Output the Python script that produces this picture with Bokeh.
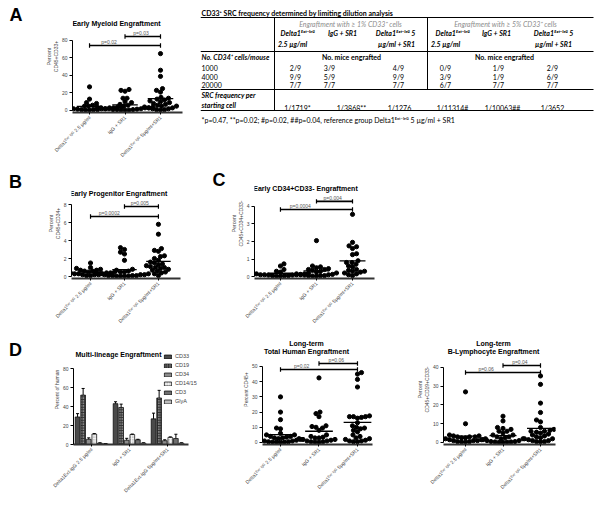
import math
import numpy as np
from bokeh.plotting import figure
from bokeh.models import Range1d, FixedTicker, Label, Legend, LegendItem, Spacer, Title
from bokeh.layouts import column, row
from bokeh.core.properties import value
from bokeh.embed import file_html
from bokeh.resources import INLINE

# ------------------------------------------------------------------ data
group_labels = ["Delta1ᴱˣᵗ⁻ᴵᵍᴳ 2.5 µg/ml", "IgG + SR1", "Delta1ᴱˣᵗ⁻ᴵᵍᴳ 5µg/ml+SR1"]
group_labels_plain = ["Delta1Ext-IgG 2.5 µg/ml", "IgG + SR1", "Delta1Ext-IgG 5µg/ml+SR1"]

myeloid_delta25 = [27, 13, 9, 8, 6, 5, 5, 4, 4, 4, 3, 3, 3, 3, 2, 2, 2, 2, 1.5, 1, 1, 1, 0.5, 0.5]
myeloid_igg_sr1 = [24, 23, 22, 14, 14, 10, 9, 7, 6, 5, 4, 4, 3, 3, 3, 2, 2, 2, 1.5, 1, 1, 1, 0.5, 0.5, 0.5]
myeloid_delta5_sr1 = [65, 46, 39, 25, 23, 21, 15, 14, 13, 12, 11, 10, 9, 8, 7, 6, 5, 5, 4, 3, 3, 2, 2, 1, 1, 0.5]
myeloid_p = ["p=0.02", "p=0.03"]

progenitor_delta25 = [1.5, 1.0, 0.9, 0.8, 0.7, 0.7, 0.6, 0.6, 0.5, 0.5, 0.5, 0.4, 0.4, 0.4, 0.3, 0.3, 0.3, 0.2, 0.2, 0.2, 0.1, 0.1]
progenitor_igg_sr1 = [3.2, 3.0, 2.7, 2.5, 1.8, 0.8, 0.7, 0.6, 0.5, 0.5, 0.4, 0.3, 0.3, 0.2, 0.2, 0.2, 0.1, 0.1, 0.1, 0.1, 0.05, 0.05, 0.05, 0.05]
progenitor_delta5_sr1 = [5.8, 4.7, 3.1, 2.9, 2.8, 2.3, 2.2, 2.0, 1.8, 1.6, 1.5, 1.4, 1.3, 1.2, 1.1, 1.0, 1.0, 0.9, 0.8, 0.7, 0.6, 0.5, 0.4, 0.3, 0.1]
progenitor_p = ["p=0.0002", "p=0.005"]

cd34cd33neg_delta25 = [0.72, 0.6, 0.4, 0.3, 0.25, 0.2, 0.2, 0.18, 0.15, 0.15, 0.12, 0.1, 0.1, 0.1, 0.08, 0.08, 0.05, 0.05, 0.05, 0.03, 0.02]
cd34cd33neg_igg_sr1 = [2.05, 0.6, 0.55, 0.5, 0.45, 0.4, 0.4, 0.35, 0.3, 0.25, 0.2, 0.15, 0.12, 0.1, 0.1, 0.08, 0.05, 0.05, 0.05, 0.03, 0.02]
cd34cd33neg_delta5_sr1 = [3.55, 1.95, 1.75, 1.7, 1.6, 1.3, 1.25, 0.9, 0.8, 0.8, 0.7, 0.6, 0.55, 0.4, 0.35, 0.3, 0.3, 0.25, 0.2, 0.15, 0.1, 0.05]
cd34cd33neg_p = ["p=0.0004", "p=0.004"]

total_delta25 = [30, 20, 15, 9.5, 9, 6, 5, 5, 4, 4, 3.5, 3, 3, 2.5, 2, 2, 1.5, 1, 1, 0.5, 0.5, 0.3, 0.2, 0.2, 0.1]
total_igg_sr1 = [42.5, 20, 19, 17, 11, 10.5, 10, 9.5, 8, 5, 4, 3.5, 3, 3, 2.5, 2, 2, 1.5, 1, 1, 0.5, 0.5, 0.3, 0.2]
total_delta5_sr1 = [46, 45, 41.5, 36.5, 17.5, 17, 17, 17, 16.5, 16, 13, 11, 10, 9.5, 9, 8, 7, 5, 4, 3, 2.5, 2, 1.5, 1, 1, 0.5, 0.5]
total_p = ["p=0.02", "p=0.06"]

blymph_delta25 = [27, 10, 4, 3.5, 3.5, 3, 3, 3, 2.5, 2.5, 2, 2, 2, 1.5, 1.5, 1, 1, 1, 0.5, 0.5, 0.3, 0.2]
blymph_igg_sr1 = [14, 11.5, 8, 7.5, 7, 6, 6, 5, 4, 4, 3, 3, 2.5, 2, 2, 1.5, 1, 1, 0.5, 0.5, 0.3, 0.3, 0.2, 0.1, 0.1]
blymph_delta5_sr1 = [35.5, 31, 21, 16, 12, 11, 8, 7, 6.5, 6, 6, 5.5, 5, 4.5, 4, 3.5, 3, 2.5, 2, 2, 1.5, 1, 1, 0.5, 0.5, 0.3]
blymph_p = ["p=0.06", "p=0.04"]

lineages = ["CD33", "CD19", "CD34", "CD14/15", "CD3", "GlyA"]
lineage_mean_delta25 = [29, 52, 5.5, 11, 1.5, 0.8]
lineage_sem_delta25 = [3.5, 7, 1.5, 0.5, 0.3, 0.2]
lineage_mean_igg_sr1 = [43, 39, 4.5, 10.5, 5, 1.5]
lineage_sem_igg_sr1 = [2, 3.5, 2, 0.5, 0.5, 0.3]
lineage_mean_delta5_sr1 = [27, 49, 4, 7.5, 6.3, 1.5]
lineage_sem_delta5_sr1 = [6, 8, 1, 0.5, 4.5, 0.3]

cells_per_mouse = ["1000", "4000", "20000"]
engrafted_1pct = [["2/9", "3/9", "4/9"], ["9/9", "5/9", "9/9"], ["7/7", "7/7", "7/7"]]
engrafted_5pct = [["0/9", "1/9", "2/9"], ["3/9", "1/9", "6/9"], ["6/7", "7/7", "7/7"]]
src_frequency = ["1/1719*", "1/3868**", "1/1276", "1/11314#", "1/10063##", "1/3652"]

FONT = "Liberation Sans"
TFONT = "Lato"


# ------------------------------------------------------------------ helpers
def swarm_offsets(vals, k, s, d=4.0):
    vals = np.asarray(vals, float)
    placed = []
    offs = np.zeros(len(vals))
    for n, i in enumerate(np.argsort(vals, kind="stable")):
        y = vals[i] * k
        step = 0
        found = None
        while found is None:
            if step == 0:
                cands = [0.0]
            else:
                cands = [step * 0.5, -step * 0.5] if n % 2 == 0 else [-step * 0.5, step * 0.5]
            for x in cands:
                if all((x - px) ** 2 + (y - py) ** 2 >= d * d for px, py in placed):
                    found = x
                    break
            step += 1
        placed.append((found, y))
        offs[i] = found / s
    return offs


def put(p, geo, cx, cy, text, size="5px", style="normal", angle=0.0, align="center",
        baseline="middle", color="black"):
    """Text label at a frame pixel position (converted into the plot's data space, inside the frame)."""
    l, t, s, k, x0, y1 = geo
    p.add_layout(Label(x=x0 + (cx - l) / s, y=y1 - (cy - t) / k, text=text, angle=angle,
                       text_font=FONT, text_font_size=size, text_font_style=style,
                       text_align=align, text_baseline=baseline, text_color=color))


def plain_fig(fw, fh, bottom, xr, yr):
    f = figure(frame_width=fw, frame_height=fh, x_range=Range1d(*xr), y_range=Range1d(*yr),
               output_backend="svg", toolbar_location=None, title=None,
               x_axis_type=None, y_axis_type=None,
               min_border_left=0, min_border_right=0, min_border_top=0, min_border_bottom=bottom)
    f.outline_line_color = None
    f.background_fill_color = "white"
    f.border_fill_color = "white"
    return f


def letter_fig(fw, fh, bottom, letter, lx, ly):
    f = plain_fig(fw, fh, bottom, (0, fw), (fh, 0))
    f.text(x=[lx], y=[ly], text=[letter], text_font=value(FONT), text_font_size="18px",
           text_font_style="bold", text_align="center", text_baseline="middle", text_color="black")
    return f


def base_fig(fw, fh, borders, xr, yr, yticks, xlabels, ylabel, xbounds=None):
    l, r, t, b = borders
    p = figure(frame_width=fw, frame_height=fh, x_range=Range1d(*xr), y_range=Range1d(*yr),
               output_backend="svg", toolbar_location=None, title=None,
               min_border_left=l, min_border_right=r, min_border_top=t, min_border_bottom=b)
    p.xgrid.visible = False
    p.ygrid.visible = False
    p.outline_line_color = None
    p.background_fill_color = "white"
    p.border_fill_color = "white"
    ya = p.yaxis[0]
    ya.ticker = FixedTicker(ticks=yticks)
    ya.bounds = (0, yticks[-1])
    ya.major_label_text_font = FONT
    ya.major_label_text_font_size = "5px"
    ya.major_label_standoff = 2
    ya.major_tick_out = 3
    ya.major_tick_in = 0
    ya.minor_tick_out = 0
    ya.minor_tick_in = 0
    ya.axis_line_width = 1
    ya.major_tick_line_width = 1
    ya.axis_label = ylabel
    ya.axis_label_text_font = FONT
    ya.axis_label_text_font_size = "5px"
    ya.axis_label_text_font_style = "normal"
    ya.axis_label_standoff = 0
    xa = p.xaxis[0]
    xa.ticker = FixedTicker(ticks=[0, 1, 2])
    xa.major_label_overrides = {i: lab for i, lab in enumerate(xlabels)}
    xa.major_label_orientation = math.pi / 4
    xa.major_label_text_font = FONT
    xa.major_label_text_font_size = "5px"
    xa.major_label_standoff = 2
    xa.major_tick_out = 2
    xa.major_tick_in = 0
    xa.minor_tick_out = 0
    xa.minor_tick_in = 0
    xa.axis_line_width = 2
    xa.axis_line_color = "#333333"
    if xbounds is not None:
        xa.bounds = xbounds
    s = fw / (xr[1] - xr[0])
    k = fh / (yr[1] - yr[0])
    geo = (l, t, s, k, xr[0], yr[1])
    return p, geo


def dot_panel(fw, fh, borders, xr, yr, yticks, groups, bracket_levels, pvals,
              ylabel, titles, title_xy):
    p, geo = base_fig(fw, fh, borders, xr, yr, yticks, group_labels, ylabel)
    s, k = geo[2], geo[3]
    for gi, vals in enumerate(groups):
        offs = swarm_offsets(vals, k, s)
        p.scatter(x=gi + offs, y=vals, size=4.2, color="black")
        m = float(np.mean(vals))
        p.segment(x0=[gi - 0.36], x1=[gi + 0.36], y0=[m], y1=[m], line_width=1.3, line_color="black")
    cap = 2.2 / k
    pairs = [(0, 2), (1, 2)]
    for (ga, gb), lvl, txt in zip(pairs, bracket_levels, pvals):
        p.segment(x0=[ga], x1=[gb], y0=[lvl], y1=[lvl], line_width=1.6, line_color="black")
        p.segment(x0=[ga, gb], x1=[ga, gb], y0=[lvl - cap] * 2, y1=[lvl + cap] * 2,
                  line_width=1.2, line_color="black")
        tx = (ga + ga + 1) / 2 + (0.05 if ga == 0 else -0.05)
        p.add_layout(Label(x=tx, y=lvl, text=txt, text_font=FONT, text_font_size="5px",
                           text_align="center", text_baseline="bottom", y_offset=0.5,
                           text_color="#555555"))
    for i, line in enumerate(titles):
        put(p, geo, title_xy[0], title_xy[1] + i * 8, line, size="7px", style="bold")
    return p


# ------------------------------------------------------------------ row 1: panel A + table
F1, B1 = 112, 56
letA = letter_fig(40, F1, B1, "A", 15.5, 14.5)
figA = dot_panel(110, F1, (32, 18, 0, B1), (-0.48, 2.62), (-2.29, 125.71), [0, 20, 40, 60, 80],
                 [myeloid_delta25, myeloid_igg_sr1, myeloid_delta5_sr1], [74.3, 84.6], myeloid_p,
                 "Percent\nCD45+CD33+", ["Early Myeloid  Engraftment"], (77, 23))

tbl = plain_fig(398, F1, B1, (200, 598), (112, 0))
tbl.segment(x0=[200, 200, 200, 200, 274, 427], x1=[593, 593, 593, 593, 274, 427],
            y0=[17, 51, 89, 110, 17, 17], y1=[17, 51, 89, 110, 110, 89],
            line_color="black", line_width=1)


def ttext(xs, ys, texts, size="7px", style="normal", align="center", color="black"):
    tbl.text(x=xs, y=ys, text=texts, text_font=value(TFONT), text_font_size=size,
             text_font_style=style, text_align=align, text_baseline="middle", text_color=color)


ttext([201], [12], ["CD33⁺ SRC frequency determined by limiting dilution analysis"], style="bold", align="left")
ttext([350, 505], [23, 23], ["Engraftment with ≥ 1% CD33⁺ cells", "Engraftment with ≥ 5% CD33⁺ cells"],
      style="italic", color="#8c8c8c")
ttext([297, 342, 395, 452, 496, 553], [32] * 6,
      ["Delta1ᴱˣᵗ⁻ᴵᵍᴳ", "IgG + SR1", "Delta1ᴱˣᵗ⁻ᴵᵍᴳ 5", "Delta1ᴱˣᵗ⁻ᴵᵍᴳ", "IgG + SR1", "Delta1ᴱˣᵗ⁻ᴵᵍᴳ 5"],
      style="bold italic")
ttext([292, 396, 445, 553], [43] * 4, ["2.5 µg/ml", "µg/ml + SR1", "2.5 µg/ml", "µg/ml + SR1"],
      style="bold italic")
ttext([201], [56], ["No. CD34⁺ cells/mouse"], style="bold italic", align="left")
ttext([351, 504], [56, 56], ["No. mice engrafted", "No. mice engrafted"], style="bold")
row_y = [67, 76, 84.5]
ttext([201] * 3, row_y, cells_per_mouse, align="left")
col_x = [295, 329, 398, 445, 498, 552]
vx, vy, vt = [], [], []
for ri, yv in enumerate(row_y):
    for ci, t in enumerate(engrafted_1pct[ri] + engrafted_5pct[ri]):
        vx.append(col_x[ci]); vy.append(yv); vt.append(t)
ttext(vx, vy, vt)
ttext([201, 201], [94, 104], ["SRC frequency per", "starting cell"], style="bold italic", align="left")
ttext([297, 351, 399, 452, 502, 552], [107] * 6, src_frequency)
tbl.add_layout(Title(text="*p=0.47, **p=0.02; #p=0.02, ##p=0.04, reference group Delta1ᴱˣᵗ⁻ᴵᵍᴳ 5 µg/ml + SR1",
                     align="left", offset=1, standoff=2, text_font=TFONT, text_font_size="7px",
                     text_font_style="normal", text_color="black"), "below")

# ------------------------------------------------------------------ row 2: panels B, C
F2, B2 = 110, 56
letB = letter_fig(40, F2, B2, "B", 15, 13)
figB = dot_panel(109, F2, (31, 20, 0, B2), (-0.56, 2.65), (-0.222, 12.0), [0, 2, 4, 6, 8],
                 [progenitor_delta25, progenitor_igg_sr1, progenitor_delta5_sr1], [6.67, 7.78], progenitor_p,
                 "Percent\nCD45+CD34+", ["Early Progenitor  Engraftment"], (79, 25))
letC = letter_fig(27, F2, B2, "C", 18.5, 11)
figC = dot_panel(120, F2, (26, 27, 0, B2), (-0.72, 2.61), (-0.114, 6.171), [0, 1, 2, 3, 4],
                 [cd34cd33neg_delta25, cd34cd33neg_igg_sr1, cd34cd33neg_delta5_sr1], [3.83, 4.29], cd34cd33neg_p,
                 "Percent\nCD45+CD34+CD33-", ["Early CD34+CD33- Engraftment"], (77, 20))

# ------------------------------------------------------------------ row 3: panel D + long-term panels
F3, B3 = 110, 58
letD = letter_fig(40, F3, B3, "D", 15, 15)
figD, geoD = base_fig(139, F3, (33, 10, 0, B3), (-0.474, 3.184), (0, 115.8), [0, 20, 40, 60, 80],
                      group_labels_plain, "Percent of human", xbounds=(-0.474, 2.55))
bar_styles = [
    dict(fill_color="#4a4a4a"),
    dict(fill_color="#303030", hatch_pattern="dot", hatch_color="white", hatch_scale=2.6, hatch_weight=1.2),
    dict(fill_color="#8c8c8c"),
    dict(fill_color="#f4f4f4", hatch_pattern="dot", hatch_color="#8a8a8a", hatch_scale=2.6, hatch_weight=1),
    dict(fill_color="#6e6e6e"),
    dict(fill_color="#bdbdbd"),
]
means = np.array([lineage_mean_delta25, lineage_mean_igg_sr1, lineage_mean_delta5_sr1])
sems = np.array([lineage_sem_delta25, lineage_sem_igg_sr1, lineage_sem_delta5_sr1])
items = []
bw = 0.124
step = 0.147
for li, lin in enumerate(lineages):
    xs = np.arange(3) + (li - 2.5) * step
    tops = means[:, li]
    r = figD.vbar(x=xs, top=tops, width=bw, bottom=0, line_color="black", line_width=0.7,
                  **bar_styles[li])
    items.append(LegendItem(label=lin, renderers=[r]))
    errs = sems[:, li]
    figD.segment(x0=xs, x1=xs, y0=tops, y1=tops + errs, line_color="black", line_width=1)
    figD.segment(x0=xs - 0.04, x1=xs + 0.04, y0=tops + errs, y1=tops + errs, line_color="black", line_width=1)
legD = Legend(items=items, location=(90, 40), glyph_width=9, glyph_height=5, label_height=5,
              label_standoff=3, spacing=3, padding=0, margin=0, border_line_color=None,
              background_fill_alpha=0, label_text_font=FONT, label_text_font_size="5.5px")
figD.add_layout(legD)
put(figD, geoD, 78, 20, "Multi-lineage Engraftment", size="7px", style="bold")

figT = dot_panel(110, F3, (40, 33, 0, B3), (-0.4675, 2.39), (-1.316, 71.05), [0, 10, 20, 30, 40, 50],
                 [total_delta25, total_igg_sr1, total_delta5_sr1], [48.0, 52.0], total_p,
                 "Percent CD45+", ["Long-term", "Total Human Engraftment"], (84, 9))

figL = dot_panel(112, F3, (38, 43, 0, B3), (-0.587, 2.40), (-1.067, 57.6), [0, 10, 20, 30, 40],
                 [blymph_delta25, blymph_igg_sr1, blymph_delta5_sr1], [37.3, 41.1], blymph_p,
                 "Percent\nCD45+CD19+CD33-", ["Long-term", "B-Lymphocyte Engraftment"], (88, 9))

layout = column(row(letA, figA, tbl),
                row(letB, figB, letC, figC, Spacer(width=198, height=F2 + B2)),
                row(letD, figD, figT, figL))

open("out.html", "w").write(file_html(layout, INLINE))
